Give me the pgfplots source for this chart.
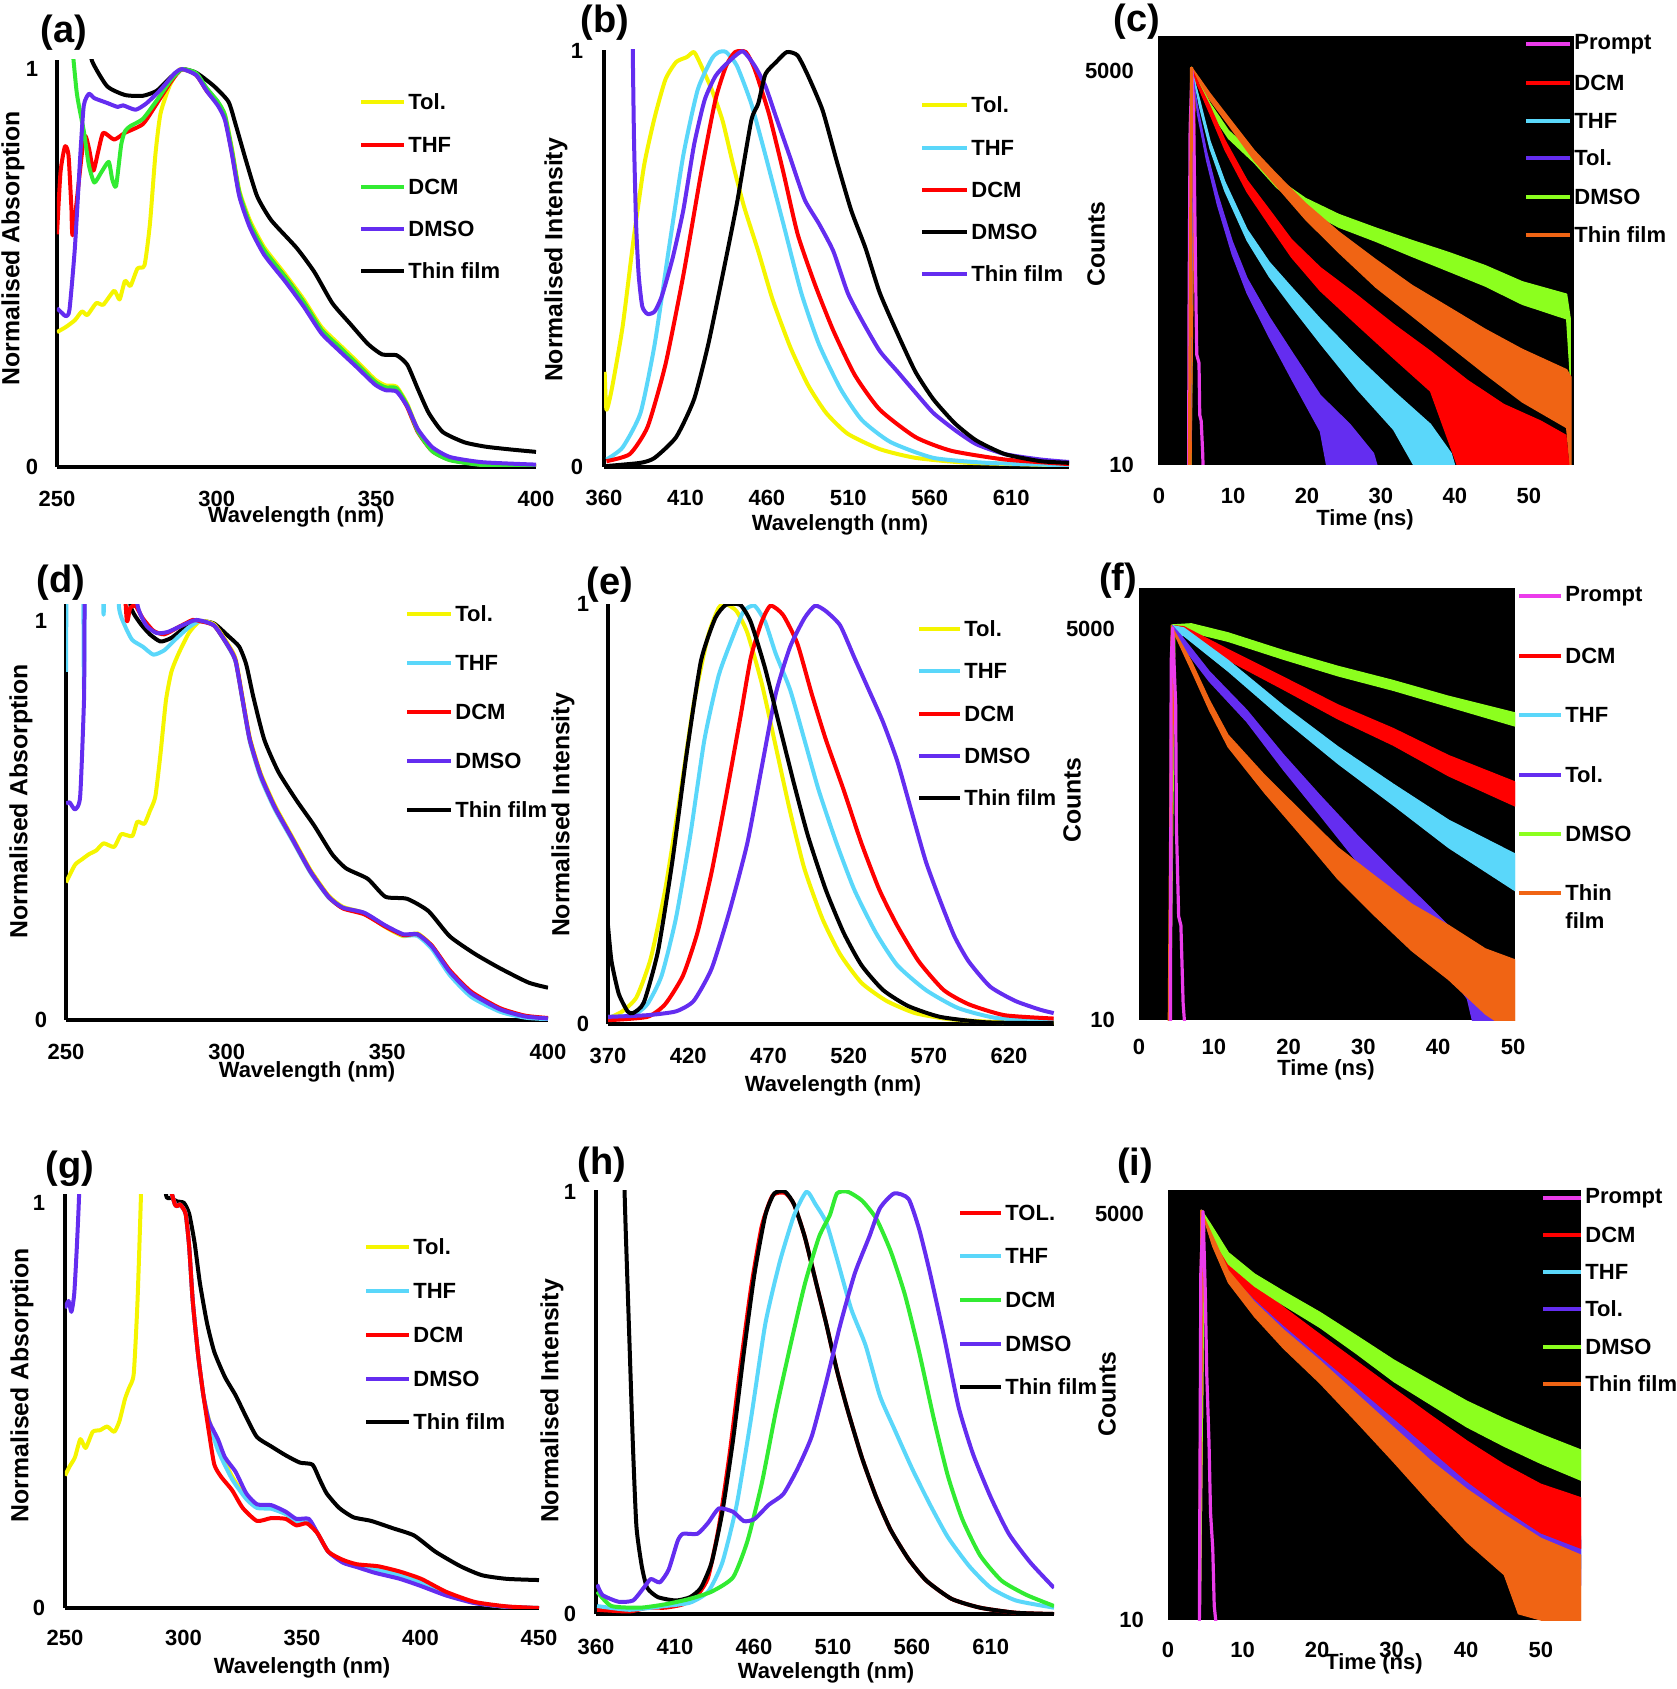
\documentclass[border=0pt]{standalone}
\usepackage{fontspec}
\setmainfont{Liberation Sans}
\usepackage{pgfplots}
\pgfplotsset{compat=1.18}
\definecolor{cyel}{RGB}{245,245,0}
\definecolor{cred}{RGB}{255,0,0}
\definecolor{cgrn}{RGB}{50,235,50}
\definecolor{cpur}{RGB}{100,45,240}
\definecolor{ccya}{RGB}{90,215,250}
\definecolor{cmag}{RGB}{235,60,235}
\definecolor{clim}{RGB}{140,255,30}
\definecolor{cora}{RGB}{240,100,20}
\newcommand{\tfont}{\fontsize{11}{13}\selectfont\bfseries}
\newcommand{\yfont}{\fontsize{12.4}{14}\selectfont\bfseries}
\newcommand{\pfont}{\fontsize{19}{22}\selectfont\bfseries}
\pgfplotsset{
  specax/.style={scale only axis, anchor=south west, axis x line*=bottom, axis y line*=left,
    axis line style={line width=2pt, black}, major tick length=0pt,
    ytick={0,1}, yticklabels={0,1}, ymin=0,
    tick label style={font=\tfont},
    xticklabel style={anchor=center}, yticklabel style={anchor=center},
    every axis plot/.append style={line width=2pt, line join=round, smooth, tension=0.35}},
  tcspcax/.style={scale only axis, anchor=south west, ymin=10,
    axis background/.style={fill=black}, axis line style={draw=none}, major tick length=0pt,
    xtick={0,10,20,30,40,50}, xticklabels={0,10,20,30,40,50},
    ytick={10,5000}, yticklabels={10,5000},
    tick label style={font=\tfont},
    xticklabel style={anchor=center}, yticklabel style={anchor=east},
    every axis plot/.append style={line width=0.6pt, line join=round}},
}
% legend entry: x1, x2, y, colour, text (picture pixels)
\newcommand{\legitem}[5]{\draw[#4, line width=2pt] (#1,#3) -- (#2,#3);
  \node[anchor=west, inner sep=0pt, font=\tfont] at (#2+4,#3) {#5};}

\begin{document}
\begin{tikzpicture}
\path[use as bounding box] (0,0) rectangle (838pt,-844.5pt);

% ---------- (a) absorption
\begin{axis}[specax, at={(28.5pt,-233.5pt)}, width=239.5pt, height=203.5pt,
  xmin=250, xmax=400, ymax=1.023, xtick={250,300,350,400}, xticklabels={250,300,350,400},
  xticklabel style={yshift=-16pt}, yticklabel style={xshift=-12.5pt}]
\addplot[black] coordinates {(259.8,1.08)(261,1.02)(265.7,0.957)(271.3,0.935)(276.9,0.933)(281.3,0.946)(285.8,0.981)(289.2,1.0)(293.6,0.991)(299.2,0.957)(303.7,0.918)(305.9,0.862)(309.3,0.767)(312.7,0.68)(317.1,0.62)(325,0.551)(330.6,0.49)(336.2,0.412)(341.8,0.36)(347.4,0.309)(351.8,0.283)(356.3,0.281)(359.7,0.257)(363,0.196)(366.4,0.136)(370.8,0.088)(377.6,0.062)(384.3,0.051)(392.1,0.044)(400,0.038)};
\addplot[cyel] coordinates {(250,0.339)(252.8,0.352)(255.6,0.369)(257.8,0.391)(259.5,0.382)(262.3,0.412)(264.5,0.408)(267.9,0.443)(269.6,0.421)(271.3,0.468)(273,0.455)(275.2,0.499)(277.4,0.507)(279.1,0.611)(280.8,0.784)(282.4,0.888)(285.2,0.957)(288,0.996)(289.2,1.0)(293.6,0.987)(296.9,0.950)(300.4,0.916)(302.6,0.885)(304.8,0.800)(307.1,0.695)(310.4,0.62)(314.9,0.552)(321.6,0.483)(327.2,0.422)(332.8,0.352)(338.4,0.308)(344,0.265)(349.6,0.22)(352.9,0.205)(356.3,0.202)(359.7,0.158)(363,0.094)(367.5,0.045)(373.1,0.020)(383.2,0.006)(400,0.002)};
\addplot[cred] coordinates {(250,0.585)(251.1,0.741)(252.5,0.806)(253.6,0.784)(254.5,0.654)(255,0.585)(258.4,0.827)(260,0.801)(261.4,0.745)(262.9,0.793)(264.5,0.840)(267.9,0.823)(271.3,0.840)(276.9,0.862)(281.3,0.914)(285.8,0.970)(289.2,1.0)(293.6,0.985)(296.9,0.945)(300.4,0.912)(302.6,0.877)(304.8,0.790)(307.1,0.686)(310.4,0.610)(314.9,0.543)(321.6,0.476)(327.2,0.414)(332.8,0.344)(338.4,0.300)(344,0.258)(349.6,0.213)(352.9,0.198)(356.3,0.195)(359.7,0.150)(363,0.088)(367.5,0.040)(373.1,0.018)(383.2,0.006)(400,0.002)};
\addplot[cgrn] coordinates {(254.3,1.1)(256.2,0.94)(258.4,0.844)(260,0.758)(261.7,0.715)(263.9,0.741)(266.2,0.767)(267.3,0.723)(268.5,0.706)(270.1,0.81)(271.3,0.844)(273,0.857)(276.9,0.875)(281.3,0.922)(285.8,0.974)(289.2,1.0)(293.6,0.99)(296.9,0.952)(300.4,0.918)(302.6,0.884)(304.8,0.795)(307.1,0.690)(310.4,0.612)(314.9,0.545)(321.6,0.476)(327.2,0.415)(332.8,0.345)(338.4,0.302)(344,0.258)(349.6,0.214)(352.9,0.2)(356.3,0.198)(359.7,0.155)(363,0.09)(367.5,0.04)(373.1,0.017)(383.2,0.005)(400,0.001)};
\addplot[cpur] coordinates {(250,0.399)(251.7,0.386)(252.8,0.379)(253.9,0.395)(255.6,0.551)(257.3,0.784)(258.4,0.909)(260,0.938)(261.7,0.927)(265.7,0.915)(269,0.905)(270.7,0.909)(274.6,0.898)(278,0.914)(282.4,0.948)(286.9,0.990)(289.2,1.0)(293.6,0.985)(296.9,0.945)(300.4,0.908)(302.6,0.872)(304.8,0.785)(307.1,0.68)(310.4,0.602)(314.9,0.533)(321.6,0.465)(327.2,0.404)(332.8,0.336)(338.4,0.292)(344,0.25)(349.6,0.207)(352.9,0.193)(356.3,0.19)(359.7,0.152)(363,0.095)(367.5,0.05)(373.1,0.025)(383.2,0.012)(400,0.006)};
\end{axis}

% ---------- (b) emission
\begin{axis}[specax, at={(302pt,-233.5pt)}, width=232.5pt, height=208.5pt,
  xmin=360, xmax=645.5, ymax=1.003, xtick={360,410,460,510,560,610}, xticklabels={360,410,460,510,560,610},
  xticklabel style={yshift=-15.5pt}, yticklabel style={xshift=-13.5pt}]
\addplot[cyel] coordinates {(360.4,0.229)(361.5,0.138)(364.8,0.188)(371.4,0.337)(378,0.543)(384.6,0.725)(391.1,0.841)(397.7,0.932)(404.3,0.974)(410.9,0.986)(415.3,0.998)(419.7,0.965)(426.2,0.907)(432.8,0.833)(439.4,0.725)(446,0.626)(454.7,0.519)(463.5,0.403)(474.5,0.287)(485.4,0.196)(496.4,0.130)(509.6,0.080)(529.3,0.043)(551.2,0.022)(584.1,0.010)(645.5,0.004)};
\addplot[ccya] coordinates {(361.5,0.018)(371.4,0.047)(382.4,0.130)(391.1,0.295)(399.9,0.527)(408.7,0.750)(417.5,0.907)(426.2,0.982)(430.6,0.998)(435,0.998)(441.6,0.965)(450.4,0.874)(459.1,0.750)(470.1,0.585)(481.1,0.419)(492,0.295)(505.2,0.188)(518.3,0.113)(535.9,0.060)(562.2,0.022)(595.1,0.010)(645.5,0.004)};
\addplot[cred] coordinates {(361.5,0.014)(375.8,0.031)(386.8,0.097)(397.7,0.246)(408.7,0.461)(419.7,0.709)(428.4,0.883)(435,0.965)(440.5,0.998)(447.1,0.998)(452.5,0.957)(461.3,0.849)(470.1,0.709)(478.9,0.560)(489.8,0.436)(500.8,0.328)(514,0.221)(529.3,0.138)(551.2,0.072)(573.2,0.039)(606.1,0.018)(645.5,0.007)};
\addplot[cpur] coordinates {(377.5,1.05)(378.4,0.792)(379.7,0.585)(381.3,0.461)(383.5,0.386)(386.8,0.368)(391.1,0.374)(395.5,0.411)(402.1,0.502)(408.7,0.618)(415.3,0.775)(421.8,0.883)(428.4,0.940)(435,0.969)(444.9,1.0)(452.5,0.965)(459.1,0.916)(465.7,0.841)(474.5,0.742)(483.2,0.643)(492,0.585)(500.8,0.519)(509.6,0.419)(518.3,0.353)(529.3,0.279)(540.3,0.229)(551.2,0.179)(562.2,0.130)(575.4,0.089)(588.5,0.055)(606.1,0.031)(628,0.018)(645.5,0.012)};
\addplot[black] coordinates {(360.4,0.002)(382.4,0.010)(391.1,0.022)(404.3,0.072)(415.3,0.163)(424,0.295)(432.8,0.461)(441.6,0.634)(450.4,0.833)(454.7,0.874)(459.1,0.945)(465.7,0.974)(472.2,0.998)(478.8,0.990)(485.4,0.940)(494.2,0.858)(503,0.734)(511.8,0.617)(520.5,0.527)(529.3,0.419)(540.3,0.320)(551.2,0.229)(562.2,0.163)(575.4,0.105)(588.5,0.064)(606.1,0.031)(628,0.014)(645.5,0.010)};
\end{axis}

% ---------- (c) decay
\begin{axis}[tcspcax, ymode=log, at={(579pt,-232.5pt)}, width=208pt, height=214.5pt,
  xmin=-0.14, xmax=56.1, ymax=8670, xticklabel style={yshift=-15.5pt}, yticklabel style={xshift=-8.5pt}]
\addplot[fill=clim, draw=clim] coordinates {(4.1,8)(4.4,5300)(6.9,3000)(9.4,1950)(12.9,1340)(15.9,920)(19.8,670)(24.3,520)(29.3,420)(34.2,345)(39.2,285)(44.1,232)(49.1,180)(55.1,148)(55.6,100)(55.6,40)(55.1,100)(49.1,126)(44.1,168)(39.2,212)(34.2,268)(29.3,340)(24.3,425)(19.8,565)(15.9,795)(12.9,1170)(9.4,1720)(6.9,2650)(4.8,4700)(4.3,8)} -- cycle;
\addplot[fill=cora, draw=cora] coordinates {(4.1,8)(4.4,5300)(6.9,3500)(9.4,2400)(12.9,1420)(15.9,980)(19.8,620)(24.3,395)(29.3,255)(34.2,170)(39.2,120)(44.1,85)(49.1,62)(55.1,45)(55.7,40)(55.7,8)(55.1,18)(49.1,27)(44.1,42)(39.2,66)(34.2,105)(29.3,165)(24.3,285)(19.8,480)(15.9,810)(12.9,1210)(9.4,2130)(6.9,3150)(4.9,4700)(4.3,8)} -- cycle;
\addplot[fill=cred, draw=cred] coordinates {(4.1,8)(4.35,5200)(6.9,2850)(8.9,1680)(11.9,890)(14.9,560)(17.9,350)(21.8,225)(26.8,145)(31.7,92)(36.7,60)(41.7,38)(46.6,26)(51.6,20)(55,16)(55.6,8)(41,8)(36.7,32)(31.7,54)(26.8,91)(21.8,156)(17.9,265)(14.9,440)(11.9,740)(8.9,1440)(6.9,2520)(4.6,4700)(4.2,8)} -- cycle;
\addplot[fill=ccya, draw=ccya] coordinates {(4.1,8)(4.35,5200)(5.5,3150)(6.9,1650)(8.9,870)(11.9,410)(14.9,245)(17.9,165)(21.8,100)(26.8,55)(31.7,32)(36.7,19)(39.5,12)(40.5,8)(35.5,8)(31.7,17.5)(26.8,33)(21.8,68)(17.9,122)(14.9,195)(11.9,345)(8.9,750)(6.9,1460)(5.5,2800)(4.6,4700)(4.2,8)} -- cycle;
\addplot[fill=cpur, draw=cpur] coordinates {(4.1,8)(4.35,5200)(5.2,2850)(6.4,1420)(7.9,720)(9.9,340)(11.9,190)(14.9,103)(17.9,60)(21.8,30)(25.8,19)(29,12)(30,8)(23,8)(21.8,17)(17.9,39)(14.9,75)(11.9,150)(9.9,275)(7.9,600)(6.4,1230)(5.2,2520)(4.6,4700)(4.2,8)} -- cycle;
\addplot[cmag, line width=1.6pt] coordinates {(4.0,8)(4.05,100)(4.2,2000)(4.45,5000)(4.7,2000)(4.9,300)(5.0,120)(5.1,57)(5.4,50)(5.5,22)(5.7,20)(5.9,12)(6.0,8)};
\addplot[cora, line width=1.6pt] coordinates {(4.1,8)(4.4,5300)};
\end{axis}

% ---------- (d) absorption
\begin{axis}[specax, at={(33pt,-510pt)}, width=241pt, height=208pt,
  xmin=250, xmax=400, ymax=1.043, xtick={250,300,350,400}, xticklabels={250,300,350,400},
  xticklabel style={yshift=-16pt}, yticklabel style={xshift=-12.5pt}]
\addplot[black] coordinates {(269.5,1.2)(270,1.043)(272.8,0.998)(276.1,0.967)(279.4,0.949)(282.8,0.958)(287.2,0.985)(291.7,1.0)(296.1,0.994)(300.6,0.962)(303.9,0.936)(306.1,0.891)(308.3,0.810)(311.7,0.703)(316.1,0.622)(321.7,0.551)(327.2,0.488)(332.8,0.416)(337.2,0.380)(343.9,0.354)(349.4,0.309)(356.1,0.304)(362.8,0.273)(369.4,0.210)(377.2,0.166)(385,0.130)(393.9,0.094)(400,0.081)};
\addplot[cyel] coordinates {(250,0.345)(252.8,0.389)(255,0.403)(257.2,0.416)(259.4,0.425)(261.7,0.443)(265,0.434)(267.2,0.466)(270.6,0.461)(272.2,0.497)(274.4,0.492)(276.1,0.524)(277.8,0.560)(279.4,0.667)(281.1,0.801)(282.8,0.873)(285,0.918)(288.3,0.971)(291.7,1.0)(296.1,0.992)(300.6,0.940)(302.8,0.905)(305,0.806)(307.2,0.708)(310.6,0.618)(315,0.538)(320.6,0.456)(326.1,0.376)(331.7,0.312)(336.1,0.284)(342.8,0.268)(349.4,0.233)(355,0.210)(359.4,0.217)(363.9,0.186)(369.4,0.122)(376.1,0.067)(385,0.027)(392.8,0.009)(400,0.004)};
\addplot[ccya] coordinates {(250,0.873)(250.6,1.2)(255.0,1.2)(255.6,0.83)(256.2,1.2)(261.0,1.2)(261.7,1.016)(262.4,1.2)(265.5,1.2)(266.5,1.034)(268.3,0.989)(270.6,0.953)(273.9,0.936)(277.2,0.916)(280.6,0.927)(283.9,0.953)(288.3,0.985)(291.7,1.0)(296.1,0.989)(300.6,0.934)(302.8,0.897)(305,0.797)(307.2,0.698)(310.6,0.607)(315,0.528)(320.6,0.448)(326.1,0.369)(331.7,0.307)(336.1,0.281)(342.8,0.267)(349.4,0.235)(355,0.212)(359.4,0.211)(363.9,0.178)(369.4,0.113)(376.1,0.058)(385,0.021)(392.8,0.006)(400,0.002)};
\addplot[cred] coordinates {(267.5,1.2)(268.9,1.003)(270,1.034)(271.7,1.038)(273.9,1.007)(277.2,0.976)(280.6,0.967)(285,0.985)(289.4,1.003)(291.7,1.0)(296.1,0.989)(300.6,0.936)(302.8,0.900)(305,0.801)(307.2,0.703)(310.6,0.613)(315,0.533)(320.6,0.452)(326.1,0.372)(331.7,0.309)(336.1,0.280)(342.8,0.265)(349.4,0.234)(355,0.213)(359.4,0.215)(363.9,0.186)(369.4,0.125)(376.1,0.071)(385,0.030)(392.8,0.011)(400,0.005)};
\addplot[cpur] coordinates {(250,0.542)(251.1,0.546)(252.8,0.528)(254.4,0.560)(255.6,0.801)(256.9,1.2)(271.5,1.2)(272.2,1.043)(275,0.989)(278.3,0.970)(281.7,0.973)(286.1,0.989)(290.6,1.003)(296.1,0.989)(300.6,0.936)(302.8,0.900)(305,0.801)(307.2,0.703)(310.6,0.613)(315,0.533)(320.6,0.452)(326.1,0.372)(331.7,0.309)(336.1,0.282)(342.8,0.269)(349.4,0.237)(355,0.215)(359.4,0.215)(363.9,0.184)(369.4,0.121)(376.1,0.067)(385,0.027)(392.8,0.009)(400,0.004)};
\end{axis}

% ---------- (e) emission
\begin{axis}[specax, at={(304pt,-512pt)}, width=223pt, height=210pt,
  xmin=370, xmax=648, ymax=1.0, xtick={370,420,470,520,570,620}, xticklabels={370,420,470,520,570,620},
  xticklabel style={yshift=-16pt}, yticklabel style={xshift=-12.5pt}]
\addplot[cyel] coordinates {(370,0.013)(378.9,0.030)(387.8,0.064)(396.7,0.157)(405.6,0.319)(414.5,0.532)(423.4,0.762)(432.3,0.923)(439,0.991)(443.5,1.0)(450.1,0.983)(456.8,0.932)(465.7,0.813)(474.6,0.660)(483.5,0.506)(492.4,0.370)(503.6,0.251)(514.7,0.166)(528,0.098)(543.6,0.055)(561.4,0.026)(583.7,0.011)(617.1,0.004)(647.8,0.003)};
\addplot[ccya] coordinates {(370,0.017)(385.6,0.021)(394.5,0.047)(403.4,0.115)(412.3,0.251)(421.2,0.447)(430.1,0.677)(439,0.830)(447.9,0.923)(454.6,0.983)(461.3,0.996)(468,0.957)(474.6,0.881)(483.5,0.796)(492.4,0.677)(501.3,0.557)(512.5,0.430)(523.6,0.319)(537,0.217)(550.3,0.140)(568.1,0.081)(588.2,0.038)(612.6,0.014)(647.8,0.009)};
\addplot[cred] coordinates {(370,0.009)(394.5,0.017)(405.6,0.047)(416.7,0.115)(425.7,0.217)(434.6,0.362)(443.5,0.540)(452.4,0.728)(459,0.872)(465.7,0.957)(471.3,0.996)(479.1,0.974)(488,0.906)(496.9,0.787)(505.8,0.677)(516.9,0.557)(528,0.430)(539.2,0.319)(550.3,0.234)(563.7,0.149)(579.2,0.081)(594.8,0.047)(617.1,0.021)(647.8,0.013)};
\addplot[cpur] coordinates {(370,0.017)(394.5,0.021)(412.3,0.030)(423.4,0.055)(434.6,0.132)(445.7,0.268)(456.8,0.430)(465.7,0.609)(474.6,0.787)(483.5,0.898)(492.4,0.966)(499.1,0.996)(505.8,0.983)(514.7,0.949)(523.6,0.872)(532.5,0.796)(541.4,0.719)(550.3,0.626)(559.2,0.506)(568.1,0.387)(577,0.294)(585.9,0.209)(594.8,0.149)(608.2,0.089)(623.8,0.055)(639.4,0.034)(647.8,0.026)};
\addplot[black] coordinates {(370,0.234)(372.2,0.149)(376.7,0.072)(382.2,0.030)(385.6,0.026)(392.3,0.051)(401.2,0.174)(410.1,0.387)(419,0.643)(427.9,0.864)(436.8,0.966)(443.5,0.998)(452.4,0.998)(459,0.957)(467.9,0.847)(476.8,0.711)(485.8,0.574)(494.7,0.447)(505.8,0.319)(516.9,0.217)(528,0.140)(541.4,0.081)(557,0.043)(577,0.017)(606,0.004)(647.8,0.002)};
\end{axis}

% ---------- (f) decay
\begin{axis}[tcspcax, ymode=log, at={(569.5pt,-510pt)}, width=188pt, height=216pt,
  xmin=0, xmax=50.27, ymax=9620, xticklabel style={yshift=-13.5pt}, yticklabel style={xshift=-8.5pt}]
\addplot[fill=clim, draw=clim] coordinates {(4.1,8)(4.4,5350)(7.0,5450)(11.9,4720)(19.3,3560)(26.6,2770)(34,2210)(41.4,1720)(50.3,1320)(50.3,1070)(41.4,1460)(34,1890)(26.6,2380)(19.3,3100)(11.9,4120)(7.0,4750)(4.8,4700)(4.2,8)} -- cycle;
\addplot[fill=cred, draw=cred] coordinates {(4.1,8)(4.4,5300)(6,5200)(11.9,3620)(19.3,2330)(26.6,1500)(34,1030)(41.4,670)(50.3,440)(50.3,300)(41.4,485)(34,790)(26.6,1200)(19.3,1920)(11.9,3060)(6,4600)(4.6,4700)(4.2,8)} -- cycle;
\addplot[fill=ccya, draw=ccya] coordinates {(4.1,8)(4.4,5300)(6,5100)(11.9,3050)(19.3,1480)(26.6,770)(34,425)(41.4,240)(50.3,140)(50.3,78)(41.4,155)(34,305)(26.6,590)(19.3,1200)(11.9,2570)(6,4500)(4.6,4700)(4.2,8)} -- cycle;
\addplot[fill=cpur, draw=cpur] coordinates {(4.1,8)(4.4,5300)(5.5,4600)(9.4,2550)(14.4,1380)(19.3,680)(24.2,355)(29.1,190)(34,106)(38.9,60)(43.9,33)(46.8,20)(48,12)(48.5,8)(45,8)(43.9,14)(38.9,32)(34,63)(29.1,125)(24.2,260)(19.3,535)(14.4,1150)(9.4,2180)(5.5,4000)(4.6,4700)(4.2,8)} -- cycle;
\addplot[fill=cora, draw=cora] coordinates {(3.9,8)(4.3,5300)(7.0,3000)(9.4,1620)(11.9,930)(16.8,490)(21.7,275)(26.6,155)(31.6,98)(36.5,63)(41.4,45)(46.3,31)(50.3,26)(50.3,8)(46.3,11)(41.4,19)(36.5,30)(31.6,52)(26.6,94)(21.7,188)(16.8,370)(11.9,770)(9.4,1380)(7.0,2600)(4.7,4700)(4.1,8)} -- cycle;
\addplot[cmag, line width=1.6pt] coordinates {(4.2,8)(4.3,3000)(4.5,5100)(4.9,1500)(5.0,216)(5.3,52)(5.6,45)(5.9,13)(6.2,8)};
\end{axis}

% ---------- (g) absorption
\begin{axis}[specax, at={(32.5pt,-804pt)}, width=237pt, height=207pt,
  xmin=250, xmax=450, ymax=1.022, xtick={250,300,350,400,450}, xticklabels={250,300,350,400,450},
  xticklabel style={yshift=-15pt}, yticklabel style={xshift=-13pt}]
\addplot[black] coordinates {(292,1.2)(292.6,1.022)(294.9,1.013)(297.1,1.004)(300.2,1.0)(302.4,0.973)(304.7,0.901)(306.9,0.803)(309.9,0.704)(313,0.632)(317.5,0.570)(322,0.525)(326.5,0.471)(331,0.422)(337,0.399)(343.1,0.377)(349.1,0.359)(354.4,0.354)(357.4,0.318)(360.4,0.283)(365.7,0.247)(371.7,0.224)(379.2,0.215)(388.3,0.197)(397.3,0.179)(406.3,0.139)(416.9,0.103)(425.9,0.081)(436.4,0.072)(450,0.069)};
\addplot[cyel] coordinates {(250,0.327)(252,0.350)(254.2,0.372)(256.5,0.417)(258.7,0.395)(261.7,0.435)(264.8,0.439)(267.8,0.448)(270.8,0.435)(273,0.462)(275.3,0.516)(277,0.543)(279,0.578)(280.6,0.758)(282.1,1.03)(282.5,1.2)(291.5,1.2)(291.9,1.1)(296.4,0.996)(298.6,0.996)(300.9,0.973)(302.4,0.892)(303.9,0.758)(306.2,0.623)(308.4,0.525)(310.7,0.465)(314.5,0.400)(320.5,0.325)(326.5,0.272)(331,0.250)(337,0.247)(343.1,0.233)(347.6,0.216)(352.9,0.216)(356.6,0.184)(361.1,0.139)(367.2,0.116)(373.2,0.105)(382.2,0.096)(391.3,0.082)(400.3,0.064)(410.8,0.036)(422.9,0.013)(436.4,0.003)(450,0.0)};
\addplot[ccya] coordinates {(291.5,1.2)(291.9,1.1)(296.4,0.996)(298.6,0.996)(300.9,0.973)(302.4,0.892)(303.9,0.758)(306.2,0.623)(308.4,0.525)(310.7,0.462)(314.5,0.390)(320.5,0.318)(326.5,0.269)(331,0.247)(337,0.245)(343.1,0.232)(347.6,0.215)(352.9,0.216)(356.6,0.184)(361.1,0.139)(367.2,0.115)(373.2,0.104)(382.2,0.094)(391.3,0.080)(400.3,0.062)(410.8,0.035)(422.9,0.013)(436.4,0.003)(450,0.0)};
\addplot[cpur] coordinates {(250,0.740)(251.5,0.758)(252.7,0.731)(253.9,0.776)(255,0.892)(256,1.03)(256.3,1.2)(291.5,1.2)(291.9,1.1)(296.4,0.996)(298.6,0.996)(300.9,0.973)(302.4,0.892)(303.9,0.758)(306.2,0.623)(308.4,0.525)(310.7,0.462)(314.5,0.417)(317.5,0.372)(322,0.336)(326.5,0.283)(331,0.256)(337,0.254)(343.1,0.238)(347.6,0.220)(352.9,0.220)(356.6,0.184)(361.1,0.139)(367.2,0.112)(373.2,0.101)(380.7,0.087)(391.3,0.072)(400.3,0.054)(410.8,0.031)(422.9,0.012)(436.4,0.003)(450,0.0)};
\addplot[cred] coordinates {(291.5,1.2)(291.9,1.1)(296.4,0.996)(298.6,0.996)(300.9,0.973)(302.4,0.892)(303.9,0.758)(306.2,0.623)(308.4,0.525)(310.7,0.435)(313,0.354)(316,0.323)(320.5,0.291)(325,0.247)(331,0.215)(337,0.222)(343.1,0.220)(347.6,0.204)(352.1,0.209)(356.6,0.184)(361.1,0.139)(367.2,0.119)(373.2,0.108)(382.2,0.103)(391.3,0.090)(400.3,0.072)(410.8,0.040)(422.9,0.015)(436.4,0.004)(450,0.0)};
\end{axis}

% ---------- (h) emission
\begin{axis}[specax, at={(298pt,-807pt)}, width=229pt, height=212pt,
  xmin=360, xmax=650, ymax=1.004, xtick={360,410,460,510,560,610}, xticklabels={360,410,460,510,560,610},
  xticklabel style={yshift=-16.5pt}, yticklabel style={xshift=-13pt}]
\addplot[cred] coordinates {(360.7,0.010)(381.1,0.006)(392.4,0.015)(403.8,0.015)(415.1,0.023)(424.2,0.045)(431,0.087)(437.8,0.207)(444.6,0.379)(451.4,0.584)(458.2,0.773)(465,0.919)(471.8,0.991)(479.7,0.997)(485.4,0.970)(492.2,0.893)(499,0.790)(505.8,0.687)(512.6,0.576)(519.4,0.482)(528.4,0.370)(537.5,0.276)(546.6,0.199)(557.9,0.130)(569.2,0.079)(585.1,0.036)(603.2,0.015)(625.9,0.003)(650,0.0)};
\addplot[black] coordinates {(377.7,1.05)(378.8,0.910)(381.1,0.653)(383.4,0.396)(385.6,0.207)(389,0.113)(392.4,0.062)(399.2,0.040)(410.6,0.032)(419.6,0.040)(426.4,0.062)(433.2,0.122)(440,0.242)(446.8,0.413)(453.6,0.619)(460.4,0.807)(467.2,0.944)(472.9,0.996)(479.7,1.0)(485.4,0.970)(492.2,0.893)(499,0.790)(505.8,0.687)(512.6,0.576)(519.4,0.482)(528.4,0.370)(537.5,0.276)(546.6,0.199)(557.9,0.130)(569.2,0.079)(585.1,0.036)(603.2,0.015)(625.9,0.003)(650,0.0)};
\addplot[ccya] coordinates {(360.7,0.019)(381.1,0.010)(403.8,0.019)(419.6,0.027)(431,0.053)(440,0.122)(449.1,0.259)(458.2,0.464)(467.2,0.687)(476.3,0.833)(485.4,0.944)(493.3,1.0)(499,0.970)(505.8,0.927)(512.6,0.841)(521.6,0.722)(530.7,0.636)(539.8,0.516)(548.8,0.439)(560.2,0.344)(571.5,0.259)(582.8,0.182)(596.4,0.113)(610,0.062)(625.9,0.032)(650,0.015)};
\addplot[cgrn] coordinates {(360.7,0.053)(369.7,0.019)(387.9,0.015)(403.8,0.023)(419.6,0.036)(433.2,0.053)(446.8,0.087)(455.9,0.173)(465,0.310)(474,0.482)(483.1,0.636)(492.2,0.781)(501.2,0.893)(508,0.944)(512.6,0.996)(519.4,1.0)(528.4,0.979)(537.5,0.936)(546.6,0.859)(555.6,0.756)(564.7,0.619)(573.8,0.464)(582.8,0.327)(591.9,0.225)(603.2,0.139)(616.8,0.079)(632.7,0.045)(650,0.019)};
\addplot[cpur] coordinates {(360.7,0.070)(364.1,0.045)(374.3,0.029)(383.4,0.032)(390.2,0.062)(394.7,0.083)(400.4,0.075)(406,0.105)(411.7,0.173)(415.1,0.190)(424.2,0.190)(431,0.216)(437.8,0.250)(446.8,0.242)(453.6,0.220)(460.4,0.225)(469.5,0.259)(478.6,0.284)(487.6,0.344)(496.7,0.422)(505.8,0.550)(514.8,0.687)(523.9,0.807)(533,0.893)(539.8,0.961)(548.8,0.996)(557.9,0.983)(564.7,0.910)(571.5,0.807)(580.6,0.653)(589.6,0.490)(598.7,0.379)(610,0.276)(621.4,0.190)(635,0.122)(650,0.062)};
\end{axis}

% ---------- (i) decay
\begin{axis}[tcspcax, ymode=log, at={(584pt,-810pt)}, width=206.5pt, height=215pt,
  xmin=0, xmax=55.4, ymax=7230, xticklabel style={yshift=-15pt}, yticklabel style={xshift=-8.5pt}]
\addplot[fill=ccya, draw=ccya] coordinates {(4.2,8)(4.5,5300)(6.0,3750)(8.1,2420)(11.6,1520)(15.5,1030)(20.4,660)(25.4,410)(30.3,250)(35.2,160)(40.1,100)(45.1,68)(50,48)(55.4,36)(55.4,22)(50,28)(45.1,40)(40.1,62)(35.2,100)(30.3,165)(25.4,290)(20.4,480)(15.5,790)(11.6,1180)(8.1,1950)(6.0,3150)(4.9,4700)(4.3,8)} -- cycle;
\addplot[fill=cpur, draw=cpur] coordinates {(4.2,8)(4.5,5300)(6.0,3700)(8.1,2400)(11.6,1480)(15.5,990)(20.4,630)(25.4,390)(30.3,230)(35.2,145)(40.1,90)(45.1,60)(50,44)(55.4,34)(55.4,17)(50,23)(45.1,32)(40.1,52)(35.2,88)(30.3,150)(25.4,270)(20.4,455)(15.5,750)(11.6,1150)(8.1,1920)(6.0,3100)(4.9,4700)(4.3,8)} -- cycle;
\addplot[fill=cred, draw=cred] coordinates {(4.2,8)(4.5,5300)(6.0,3900)(8.1,2520)(11.6,1740)(15.5,1200)(20.4,790)(25.4,520)(30.3,345)(35.2,230)(40.1,155)(45.1,108)(50,80)(55.4,65)(55.4,30)(50,38)(45.1,55)(40.1,84)(35.2,136)(30.3,220)(25.4,355)(20.4,570)(15.5,915)(11.6,1370)(8.1,2050)(6.0,3300)(4.9,4700)(4.3,8)} -- cycle;
\addplot[fill=clim, draw=clim] coordinates {(4.2,8)(4.5,5300)(5.7,4300)(8.1,2770)(11.6,2000)(15.5,1530)(20.4,1110)(25.4,770)(30.3,535)(35.2,390)(40.1,285)(45.1,218)(50,172)(55.4,135)(55.4,85)(50,110)(45.1,143)(40.1,192)(35.2,272)(30.3,385)(25.4,585)(20.4,880)(15.5,1240)(11.6,1660)(8.1,2330)(5.7,3650)(4.9,4700)(4.3,8)} -- cycle;
\addplot[fill=cora, draw=cora] coordinates {(4.1,8)(4.4,5300)(6.0,3550)(8.1,2100)(11.6,1300)(15.5,850)(20.4,530)(25.4,315)(30.3,190)(35.2,115)(40.1,74)(45.1,50)(50,35)(55.4,27)(55.4,8)(50,10)(47,11)(45.1,20)(40.1,33)(35.2,60)(30.3,112)(25.4,205)(20.4,375)(15.5,640)(11.6,1040)(8.1,1750)(6.0,3050)(4.8,4700)(4.2,8)} -- cycle;
\addplot[cmag, line width=1.6pt] coordinates {(4.2,8)(4.4,2000)(4.7,5200)(5.0,1500)(5.2,430)(5.5,150)(5.7,52)(6.0,30)(6.2,12.4)(6.6,8)};
\end{axis}

% ---------- labels and legends (picture pixels)
\begin{scope}[x=0.5pt, y=-0.5pt]
\node[font=\pfont] at (64,33) {(a)};
\node[font=\pfont] at (605,23) {(b)};
\node[font=\pfont] at (1137,22) {(c)};
\node[font=\pfont] at (61,583) {(d)};
\node[font=\pfont] at (610,585) {(e)};
\node[font=\pfont] at (1118,581) {(f)};
\node[font=\pfont] at (70,1169) {(g)};
\node[font=\pfont] at (602,1165) {(h)};
\node[font=\pfont] at (1135,1166) {(i)};

\node[font=\tfont] at (296,517) {Wavelength (nm)};
\node[font=\tfont] at (840,525) {Wavelength (nm)};
\node[font=\tfont] at (1365,520) {Time (ns)};
\node[font=\tfont] at (307,1072) {Wavelength (nm)};
\node[font=\tfont] at (833,1086) {Wavelength (nm)};
\node[font=\tfont] at (1326,1070) {Time (ns)};
\node[font=\tfont] at (302,1668) {Wavelength (nm)};
\node[font=\tfont] at (826,1673) {Wavelength (nm)};
\node[font=\tfont] at (1374,1664) {Time (ns)};

\node[font=\yfont, rotate=90] at (13,248) {Normalised Absorption};
\node[font=\yfont, rotate=90] at (556,260) {Normalised Intensity};
\node[font=\yfont, rotate=90] at (1096,244) {Counts};
\node[font=\yfont, rotate=90] at (21,801) {Normalised Absorption};
\node[font=\yfont, rotate=90] at (563,815) {Normalised Intensity};
\node[font=\yfont, rotate=90] at (1072,800) {Counts};
\node[font=\yfont, rotate=90] at (22,1385) {Normalised Absorption};
\node[font=\yfont, rotate=90] at (552,1401) {Normalised Intensity};
\node[font=\yfont, rotate=90] at (1107,1394) {Counts};

\legitem{361}{404}{102}{cyel}{Tol.}
\legitem{361}{404}{145}{cred}{THF}
\legitem{361}{404}{187}{cgrn}{DCM}
\legitem{361}{404}{229}{cpur}{DMSO}
\legitem{361}{404}{271}{black}{Thin film}

\legitem{922}{967}{105}{cyel}{Tol.}
\legitem{922}{967}{148}{ccya}{THF}
\legitem{922}{967}{190}{cred}{DCM}
\legitem{922}{967}{232}{black}{DMSO}
\legitem{922}{967}{274}{cpur}{Thin film}

\legitem{1526}{1570}{44}{cmag}{Prompt}
\legitem{1526}{1570}{83}{cred}{DCM}
\legitem{1526}{1570}{121}{ccya}{THF}
\legitem{1526}{1570}{158}{cpur}{Tol.}
\legitem{1526}{1570}{197}{clim}{DMSO}
\legitem{1526}{1570}{235}{cora}{Thin film}

\legitem{407}{451}{614}{cyel}{Tol.}
\legitem{407}{451}{663}{ccya}{THF}
\legitem{407}{451}{712}{cred}{DCM}
\legitem{407}{451}{761}{cpur}{DMSO}
\legitem{407}{451}{810}{black}{Thin film}

\legitem{919}{960}{629}{cyel}{Tol.}
\legitem{919}{960}{671}{ccya}{THF}
\legitem{919}{960}{714}{cred}{DCM}
\legitem{919}{960}{756}{cpur}{DMSO}
\legitem{919}{960}{798}{black}{Thin film}

\legitem{1519}{1561}{596}{cmag}{Prompt}
\legitem{1519}{1561}{656}{cred}{DCM}
\legitem{1519}{1561}{715}{ccya}{THF}
\legitem{1519}{1561}{775}{cpur}{Tol.}
\legitem{1519}{1561}{834}{clim}{DMSO}
\legitem{1519}{1561}{893}{cora}{Thin}
\node[anchor=west, inner sep=0pt, font=\tfont] at (1565,921) {film};

\legitem{366}{409}{1247}{cyel}{Tol.}
\legitem{366}{409}{1291}{ccya}{THF}
\legitem{366}{409}{1335}{cred}{DCM}
\legitem{366}{409}{1379}{cpur}{DMSO}
\legitem{366}{409}{1422}{black}{Thin film}

\legitem{960}{1001}{1213}{cred}{TOL.}
\legitem{960}{1001}{1256}{ccya}{THF}
\legitem{960}{1001}{1300}{cgrn}{DCM}
\legitem{960}{1001}{1344}{cpur}{DMSO}
\legitem{960}{1001}{1387}{black}{Thin film}

\legitem{1543}{1581}{1198}{cmag}{Prompt}
\legitem{1543}{1581}{1235}{cred}{DCM}
\legitem{1543}{1581}{1272}{ccya}{THF}
\legitem{1543}{1581}{1309}{cpur}{Tol.}
\legitem{1543}{1581}{1347}{clim}{DMSO}
\legitem{1543}{1581}{1384}{cora}{Thin film}
\end{scope}
\end{tikzpicture}
\end{document}
